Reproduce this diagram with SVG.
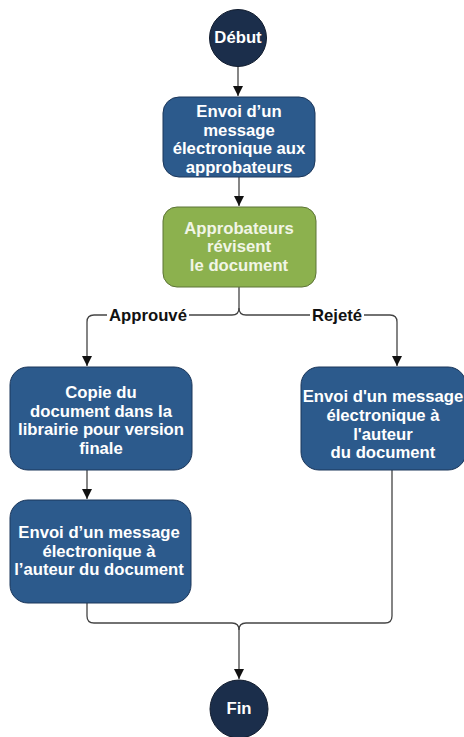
<svg xmlns="http://www.w3.org/2000/svg" width="464" height="737" viewBox="0 0 464 737">
<defs>
<marker id="arr" markerUnits="userSpaceOnUse" markerWidth="11" markerHeight="11" refX="10" refY="5" orient="auto">
<path d="M0,0 L10,5 L0,10 z" fill="#111"/>
</marker>
<style>
.box{fill:#2c5a8c;stroke:#1b365a;stroke-width:1}
.green{fill:#8cb14e;stroke:#5d7436;stroke-width:1}
.circ{fill:#1b2e4b;stroke:#111c2e;stroke-width:1}
.t{font-family:"Liberation Sans",Arial,sans-serif;font-weight:bold;font-size:16.7px;text-anchor:middle;fill:#ffffff}
.tg{fill:#f1f5e6}
.lbl{font-family:"Liberation Sans",Arial,sans-serif;font-weight:bold;font-size:16.7px;text-anchor:middle;fill:#111}
.c{fill:none;stroke:#444;stroke-width:1.3}
</style>
</defs>
<rect width="464" height="737" fill="#ffffff"/>
<g id="connectors">
<path class="c" d="M238 66.5 V96" marker-end="url(#arr)"/>
<path class="c" d="M239 177 V206" marker-end="url(#arr)"/>
<path class="c" d="M239 287 V308 Q239 315 232 315 H94 Q87 315 87 322 V366" marker-end="url(#arr)"/>
<path class="c" d="M239 308 Q239 315 246 315 H390 Q397 315 397 322 V366" marker-end="url(#arr)"/>
<path class="c" d="M87 470 V499" marker-end="url(#arr)"/>
<path class="c" d="M87 603 V616 Q87 623 94 623 H232 Q239 623 239 630 V679" marker-end="url(#arr)"/>
<path class="c" d="M392 470 V616 Q392 623 385 623 H246 Q239 623 239 630"/>
<rect x="107" y="306" width="82" height="18" fill="#ffffff"/>
<rect x="310" y="306" width="54" height="18" fill="#ffffff"/>
<text class="lbl" x="148" y="321">Approuvé</text>
<text class="lbl" x="337" y="321">Rejeté</text>
</g>
<g id="debut">
<circle class="circ" cx="238" cy="38" r="28.5"/>
<text class="t" x="238" y="43">Début</text>
</g>
<g id="envoi-approbateurs">
<rect class="box" x="163" y="97" width="152" height="80" rx="16"/>
<text class="t" x="239" y="117">Envoi d’un</text>
<text class="t" x="239" y="135.5">message</text>
<text class="t" x="239" y="154">électronique aux</text>
<text class="t" x="239" y="172.5">approbateurs</text>
</g>
<g id="revision">
<rect class="green" x="163" y="207" width="153" height="80" rx="14"/>
<text class="t tg" x="239" y="233.5">Approbateurs</text>
<text class="t tg" x="239" y="252">révisent</text>
<text class="t tg" x="239" y="270.5">le document</text>
</g>
<g id="copie">
<rect class="box" x="10" y="367" width="182" height="103" rx="18"/>
<text class="t" x="101" y="398">Copie du</text>
<text class="t" x="101" y="416.5">document dans la</text>
<text class="t" x="101" y="435">librairie pour version</text>
<text class="t" x="101" y="453.5">finale</text>
</g>
<g id="envoi-auteur-approuve">
<rect class="box" x="10" y="500" width="181" height="103" rx="18"/>
<text class="t" x="99" y="538">Envoi d’un message</text>
<text class="t" x="99" y="556.5">électronique à</text>
<text class="t" x="99" y="575">l’auteur du document</text>
</g>
<g id="envoi-auteur-rejete">
<rect class="box" x="301" y="367" width="165" height="103" rx="18"/>
<text class="t" x="383" y="402">Envoi d'un message</text>
<text class="t" x="383" y="421">électronique à</text>
<text class="t" x="383" y="440">l'auteur</text>
<text class="t" x="383" y="458">du document</text>
</g>
<g id="fin">
<circle class="circ" cx="239" cy="709" r="29"/>
<text class="t" x="239" y="714">Fin</text>
</g>
</svg>
